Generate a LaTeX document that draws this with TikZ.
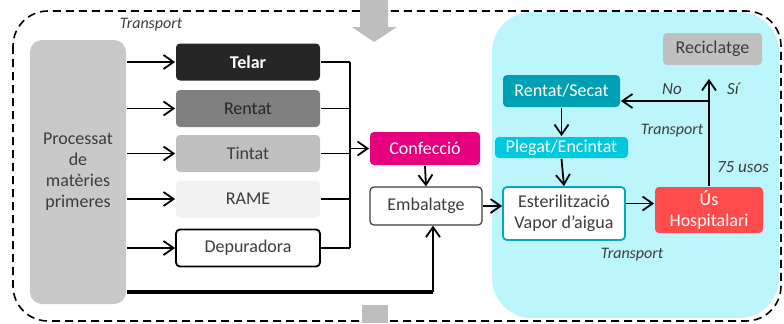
\documentclass[tikz,border=0pt]{standalone}
\usepackage{fontspec}
\setmainfont{Carlito}
\usepackage{tikz}
\usetikzlibrary{arrows.meta,positioning}

\definecolor{txtgray}{RGB}{60,60,60}
\definecolor{procgray}{RGB}{200,200,200}
\definecolor{telarc}{RGB}{38,38,38}
\definecolor{rentatc}{RGB}{128,128,128}
\definecolor{tintatc}{RGB}{191,191,191}
\definecolor{ramec}{RGB}{242,242,242}
\definecolor{confc}{RGB}{230,0,126}
\definecolor{secatc}{RGB}{0,160,180}
\definecolor{plegatc}{RGB}{0,200,222}
\definecolor{esterc}{RGB}{0,170,190}
\definecolor{usc}{RGB}{255,75,75}
\definecolor{bgcyan}{RGB}{188,245,252}
\definecolor{arrowgray}{RGB}{190,190,190}

\begin{document}
\begin{tikzpicture}[x=0.5pt, y=-0.5pt,
        basic/.style = {rectangle, rounded corners=2pt, inner sep=1pt, align=center, text=txtgray,
                        font=\fontsize{9}{10.5}\selectfont},
        proc/.style  = {basic, rounded corners=6pt, fill=procgray, minimum width=48pt, minimum height=132pt},
        stage/.style = {basic, fill=#1, minimum width=72pt, minimum height=18.5pt},
        note/.style  = {inner sep=0pt, text=txtgray, font=\fontsize{8}{9}\selectfont\itshape},
        lbl/.style   = {note, font=\fontsize{8.5}{10}\selectfont\itshape},
        >={Straight Barb[length=5pt,width=7pt]},
        line width=0.9pt]

        \useasboundingbox (0,0) rectangle (784,323);

        % background: cyan zone and dashed frame
        \fill[bgcyan, rounded corners=20pt] (492,12) rectangle (779,318);
        \draw[dashed, dash pattern=on 4pt off 2.5pt, line width=0.8pt, rounded corners=17.5pt]
            (13,11) rectangle (781,321);

        % big gray arrows in and out
        \fill[arrowgray] (360,0) -- (388,0) -- (388,27) -- (397,27) -- (374,42)
            -- (352,27) -- (360,27) -- cycle;
        \fill[arrowgray] (362,305) rectangle (388,323);

        % raw material block
        \node[proc] (proc) at (78,172) {Processat\\de\\matèries\\primeres};

        % textile stages
        \node[stage=telarc, text=white] (s1) at (248,62) {\textbf{Telar}};
        \node[stage=rentatc, text=black!85] (s2) at (248,108.5) {Rentat};
        \node[stage=tintatc] (s3) at (248,153.5) {Tintat};
        \node[stage=ramec] (s4) at (248,199) {RAME};
        \node[stage=white, draw=black] (s5) at (248,248) {Depuradora};

        % assembly and packing
        \node[stage=confc, text=white, minimum width=55pt, minimum height=16.5pt] (conf) at (425,148.5) {Confecció};
        \node[stage=white, draw=txtgray, line width=0.6pt, minimum width=56pt, minimum height=19pt] (emb) at (426,206) {Embalatge};

        % hospital loop
        \node[stage=secatc, text=white, minimum width=58.5pt, minimum height=16pt] (rs) at (561.5,91) {Rentat/Secat};
        \node[stage=plegatc, text=white, minimum width=66.5pt, minimum height=10.5pt, inner sep=0pt] (pe) at (561.5,147.5) {Plegat/Encintat};
        \node[stage=white, draw=esterc, minimum width=61pt, minimum height=26.5pt] (est) at (564,213.5) {Esterilització\\Vapor d'aigua};
        \node[stage=usc, text=white, minimum width=54pt, minimum height=23pt] (us) at (709,210) {Ús\\Hospitalari};
        \node[stage=tintatc, minimum width=49.5pt, minimum height=16pt] (rec) at (712.5,49) {Reciclatge};

        % labels
        \node[note] (tp1) at (151,25) {Transport};
        \node[note] (tp2) at (672,131) {Transport};
        \node[note] (tp3) at (632,255) {Transport};
        \node[lbl] (no) at (672,89) {No};
        \node[lbl] (si) at (733,89) {Sí};
        \node[lbl] (uses) at (743,167) {75 usos};

        % helper points
        \coordinate (bus) at (350,62);
        \coordinate (low) at (433,292);
        \coordinate (split) at (709,101);
        \coordinate (eu) at ([yshift=5pt]est.east);

        % raw material to every stage
        \foreach \value in {1,...,5}
        \draw[->] (proc.east |- s\value.west) -- (s\value.west);

        % every stage into the bus
        \foreach \value in {1,...,5}
        \draw (s\value.east) -- (s\value.east -| bus);
        \draw (bus |- s1.east) -- (bus |- s5.east);
        \draw[->] (bus |- conf.west) -- (conf.west);

        \draw[->] (conf.south) -- (emb.north);
        \draw[line width=1.6pt] (proc.east |- low) -- (low);
        \draw[->] (low) -- (low |- emb.south);

        \draw[->] (emb.east) -- (emb.east -| est.west);
        \draw[->] (rs.south) -- (pe.north);
        \draw[->] (pe.south) -- (est.north);
        \draw[->] (eu) -- (eu -| us.west);

        \draw[->, shorten >=6.5pt] (us.north) -- (us.north |- rec.south);
        \draw[->] (split) -- (split -| rs.east);

    \end{tikzpicture}
\end{document}
